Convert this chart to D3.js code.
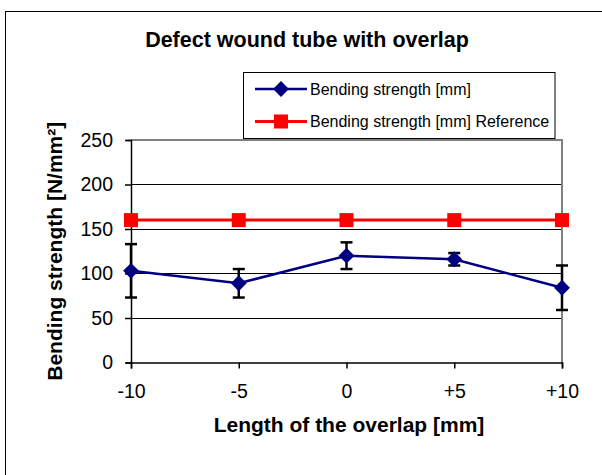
<!DOCTYPE html>
<html>
<head>
<meta charset="utf-8">
<script src="https://cdn.jsdelivr.net/npm/d3@7"></script>
<style>
  html, body { margin: 0; padding: 0; background: #fff; }
  svg { display: block; font-family: "Liberation Sans", Arial, sans-serif; }
</style>
</head>
<body>
<svg id="chart" width="602" height="475"></svg>
<script>
const categories = ["-10", "-5", "0", "+5", "+10"];
const strength = [103, 89, 120, 116, 84];
const strengthError = [30, 16, 15, 7, 25];
const reference = [160, 160, 160, 160, 160];
const yTicks = [0, 50, 100, 150, 200, 250];
const seriesNames = ["Bending strength [mm]", "Bending strength [mm] Reference"];
const titleText = "Defect wound tube with overlap";
const xTitle = "Length of the overlap [mm]";
const yTitle = "Bending strength [N/mm²]";

const svg = d3.select("#chart");
const W = 602, H = 475;
const plot = { left: 131, right: 562, top: 140, bottom: 362.5 };

svg.append("rect").attr("width", W).attr("height", H).attr("fill", "#fff");
// outer chart frame (extends past the image on right and bottom)
svg.append("rect").attr("x", 5.5).attr("y", 11.5).attr("width", 800).attr("height", 800)
  .attr("fill", "none").attr("stroke", "#000").attr("stroke-width", 1);

const x = d3.scalePoint().domain(categories).range([plot.left, plot.right]).padding(0);
const y = d3.scaleLinear().domain([0, 250]).range([plot.bottom, plot.top]);

// gridlines
svg.append("g").selectAll("line").data(yTicks.filter(t => t > 0 && t < 250)).join("line")
  .attr("x1", plot.left).attr("x2", plot.right)
  .attr("y1", d => y(d)).attr("y2", d => y(d))
  .attr("stroke", "#000").attr("stroke-width", 1).attr("shape-rendering", "crispEdges");

// plot area border (top & right gray)
svg.append("path")
  .attr("d", `M${plot.left},${y(250)}H${plot.right}V${plot.bottom}`)
  .attr("fill", "none").attr("stroke", "#808080").attr("stroke-width", 2);

// y axis
const yAxis = d3.axisLeft(y).tickValues(yTicks).tickSize(5).tickPadding(8).tickFormat(d3.format("d"));
const gy = svg.append("g").attr("transform", `translate(${plot.left},0)`).call(yAxis);
gy.select(".domain").attr("stroke", "#000").attr("stroke-width", 1.5);
gy.selectAll(".tick line").attr("stroke", "#000").attr("stroke-width", 1.5).attr("x2", -6);
gy.selectAll(".tick text").attr("font-size", 19.5).attr("fill", "#000")
  .attr("font-family", "Liberation Sans, Arial, sans-serif").attr("x", -18);

// x axis
const xAxis = d3.axisBottom(x).tickSize(6).tickPadding(16);
const gx = svg.append("g").attr("transform", `translate(0,${plot.bottom})`).call(xAxis);
gx.select(".domain").attr("stroke", "#000").attr("stroke-width", 1.5);
gx.selectAll(".tick line").attr("stroke", "#000").attr("stroke-width", 1.5);
gx.selectAll(".tick text").attr("font-size", 19.5).attr("fill", "#000")
  .attr("font-family", "Liberation Sans, Arial, sans-serif");

// titles
svg.append("text").attr("x", 307).attr("y", 47).attr("text-anchor", "middle")
  .attr("font-size", 21.5).attr("font-weight", "bold").text(titleText);
svg.append("text").attr("x", 349).attr("y", 432).attr("text-anchor", "middle")
  .attr("font-size", 21).attr("font-weight", "bold").text(xTitle);
svg.append("text").attr("transform", `translate(62,${(plot.top + plot.bottom) / 2}) rotate(-90)`)
  .attr("text-anchor", "middle").attr("font-size", 21).attr("font-weight", "bold").text(yTitle);

// reference series (red)
const line = d3.line().x((d, i) => x(categories[i])).y(d => y(d));
svg.append("path").datum(reference).attr("d", line)
  .attr("fill", "none").attr("stroke", "#ff0000").attr("stroke-width", 3);
svg.append("g").selectAll("rect").data(reference).join("rect")
  .attr("x", (d, i) => x(categories[i]) - 7).attr("y", d => y(d) - 7)
  .attr("width", 14).attr("height", 14).attr("fill", "#ff0000");

// error bars
const eb = svg.append("g").attr("stroke", "#000").attr("stroke-width", 2.5);
strength.forEach((v, i) => {
  const cx = x(categories[i]);
  const e = strengthError[i];
  eb.append("line").attr("x1", cx).attr("x2", cx).attr("y1", y(v + e)).attr("y2", y(v - e));
  eb.append("line").attr("x1", cx - 6).attr("x2", cx + 6).attr("y1", y(v + e)).attr("y2", y(v + e));
  eb.append("line").attr("x1", cx - 6).attr("x2", cx + 6).attr("y1", y(v - e)).attr("y2", y(v - e));
});

// main series (navy)
svg.append("path").datum(strength).attr("d", line)
  .attr("fill", "none").attr("stroke", "#000080").attr("stroke-width", 2.5);
const diamond = d3.symbol().type(d3.symbolDiamond2).size(160);
svg.append("g").selectAll("path").data(strength).join("path")
  .attr("transform", (d, i) => `translate(${x(categories[i])},${y(d)})`)
  .attr("d", diamond).attr("fill", "#000080");

// legend
const lg = svg.append("g");
lg.append("rect").attr("x", 243.5).attr("y", 72.5).attr("width", 311.5).attr("height", 66)
  .attr("fill", "#fff").attr("stroke", "#000").attr("stroke-width", 1);
const rows = [
  { name: seriesNames[0], color: "#000080", sym: "diamond", cy: 89 },
  { name: seriesNames[1], color: "#ff0000", sym: "square", cy: 121.5 }
];
rows.forEach(r => {
  lg.append("line").attr("x1", 255).attr("x2", 307).attr("y1", r.cy).attr("y2", r.cy)
    .attr("stroke", r.color).attr("stroke-width", r.sym === "square" ? 3 : 2.5);
  if (r.sym === "diamond") {
    lg.append("path").attr("transform", `translate(281,${r.cy})`).attr("d", diamond).attr("fill", r.color);
  } else {
    lg.append("rect").attr("x", 281 - 7).attr("y", r.cy - 7).attr("width", 14).attr("height", 14).attr("fill", r.color);
  }
  lg.append("text").attr("x", 310).attr("y", r.cy).attr("dy", "0.35em")
    .attr("font-size", 16).attr("fill", "#000").text(r.name);
});
</script>
</body>
</html>
